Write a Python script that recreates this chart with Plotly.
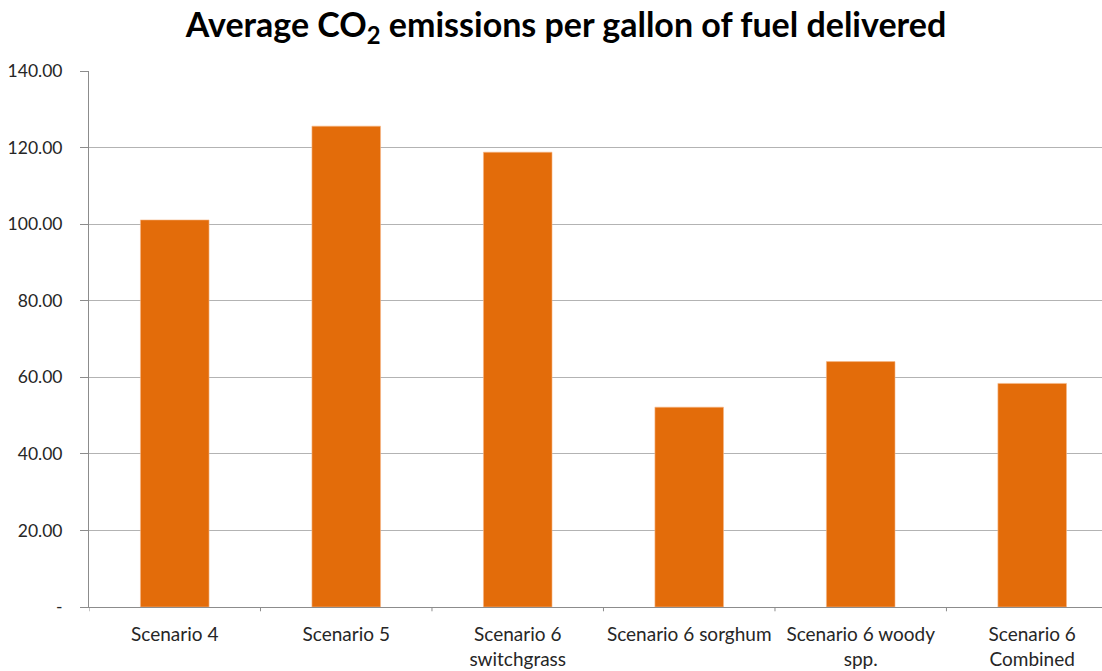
import plotly.graph_objects as go

categories = ["Scenario 4", "Scenario 5", "Scenario 6<br>switchgrass", "Scenario 6 sorghum",
              "Scenario 6 woody<br>spp.", "Scenario 6<br>Combined"]
values = [101.1, 125.6, 118.8, 52.2, 64.1, 58.4]
y_tickvals = [0, 20, 40, 60, 80, 100, 120, 140]
y_ticktext = ["-", "20.00", "40.00", "60.00", "80.00", "100.00", "120.00", "140.00"]

W, H = 1102, 671
FONT = "Lato"

fig = go.Figure(go.Bar(
    x=list(range(len(categories))), y=values,
    width=0.40,
    marker=dict(color="#E36C0A", line=dict(color="#F6B98A", width=0.6)),
))

fig.update_layout(
    width=W, height=H,
    margin=dict(l=89, r=0, t=71, b=64),
    paper_bgcolor="white", plot_bgcolor="white",
    showlegend=False,
    font=dict(family=FONT, color="#262626"),
    title=dict(
        text="<b>Average CO<sub>2</sub> emissions per gallon of fuel delivered</b>",
        x=566 / W, xanchor="center", y=1 - 25 / H, yanchor="middle",
        font=dict(family=FONT, size=34, color="#000000"),
    ),
    xaxis=dict(
        tickmode="array", tickvals=list(range(len(categories))), ticktext=categories,
        range=[-0.5, 5.407],
        showgrid=False, zeroline=False,
        showline=True, linecolor="#8c8c8c", linewidth=1,
        ticks="", ticklabelstandoff=10,
        tickfont=dict(size=19, color="#262626"),
    ),
    yaxis=dict(
        range=[0, 140], tickmode="array", tickvals=y_tickvals, ticktext=y_ticktext,
        showgrid=True, gridcolor="#b3b3b3", gridwidth=1,
        zeroline=False, showline=True, linecolor="#8c8c8c", linewidth=1,
        ticks="outside", ticklen=8, tickcolor="#8c8c8c",
        ticklabelstandoff=14,
        tickfont=dict(size=17.5, color="#262626"),
    ),
    bargap=0.6,
)

# category boundary tick marks on x axis
for i in range(len(categories) + 1):
    xb = i - 0.5
    fig.add_shape(type="line", xref="x", yref="paper", x0=xb, x1=xb, y0=0, y1=-0.008,
                  line=dict(color="#8c8c8c", width=1))

fig.write_html("out.html")
